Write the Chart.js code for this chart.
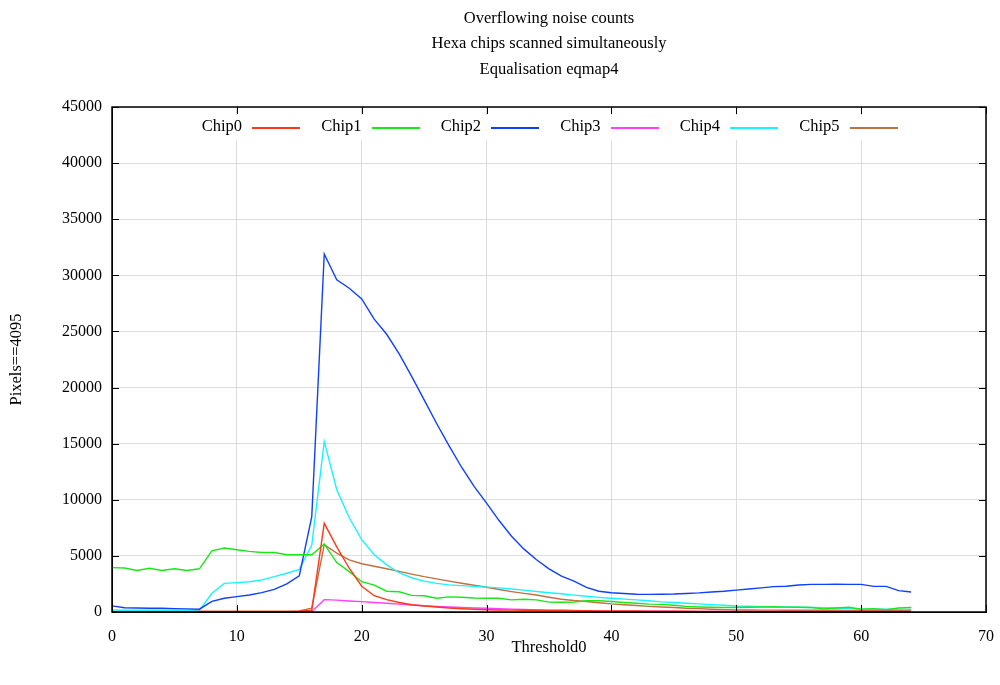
<!DOCTYPE html>
<html>
<head>
<meta charset="utf-8">
<script src="https://cdn.jsdelivr.net/npm/chart.js@4.4.1/dist/chart.umd.min.js"></script>
<style>
  html, body { margin: 0; padding: 0; background: #fff; }
  #wrap { width: 1000px; height: 685px; }
</style>
</head>
<body>
<div id="wrap"><canvas id="myChart" width="1000" height="685"></canvas></div>
<script>
// threshold values (x)
const thresholds = [0,1,2,3,4,5,6,7,8,9,10,11,12,13,14,15,16,17,18,19,20,21,22,23,24,25,26,27,28,29,30,31,32,
  33,34,35,36,37,38,39,40,41,42,43,44,45,46,47,48,49,50,51,52,53,54,55,56,57,58,59,60,61,62,63,64];

// pixels==4095 per chip
const chip0 = [30,30,30,30,35,35,35,40,40,40,45,45,50,55,60,80,150,7900,5800,3900,2300,1450,1100,850,650,530,440,360,
  290,240,200,180,170,160,150,140,130,120,110,100,95,90,85,80,75,70,65,60,60,55,55,50,50,50,50,45,45,45,45,40,40,40,40,40,40];
const chip1 = [3950,3920,3700,3900,3700,3850,3700,3850,5450,5700,5550,5400,5300,5300,5100,5100,5100,6050,4400,3600,2700,
  2400,1850,1800,1480,1450,1230,1350,1320,1250,1230,1220,1080,1130,1080,880,870,880,1000,1000,930,850,780,700,680,600,
  500,450,420,400,400,420,450,470,430,420,400,280,350,420,250,300,200,350,400];
const chip2 = [550,380,350,340,330,300,280,250,950,1220,1370,1520,1730,2020,2500,3220,8500,31900,29600,28850,27900,
  26100,24750,23000,21000,18900,16800,14800,12900,11200,9700,8150,6750,5600,4650,3850,3200,2750,2200,1850,1720,1650,
  1580,1570,1580,1600,1650,1700,1780,1850,1950,2050,2150,2260,2300,2400,2460,2460,2470,2460,2460,2280,2280,1900,1780];
const chip3 = [10,10,10,10,10,10,10,10,10,10,10,10,10,10,10,15,30,1100,1060,980,920,850,780,700,630,560,490,440,400,
  360,330,290,260,220,190,170,150,130,110,90,80,75,70,70,65,65,60,60,55,55,50,50,50,50,45,45,45,45,40,40,40,40,40,40,40];
const chip4 = [180,160,150,150,150,150,150,150,1670,2550,2620,2700,2860,3150,3450,3800,5970,15200,10900,8400,6450,5100,
  4200,3500,3050,2750,2550,2420,2350,2280,2220,2150,2050,1950,1830,1720,1620,1500,1400,1300,1220,1150,1080,1000,900,
  850,780,720,660,600,540,510,480,460,440,420,400,380,350,300,260,250,240,230,220];
const chip5 = [30,30,35,35,35,40,40,40,45,45,45,50,50,55,60,100,340,6000,5250,4650,4300,4080,3850,3620,3380,3150,2950,
  2750,2560,2380,2200,2000,1820,1660,1510,1320,1140,1020,930,820,720,650,580,500,450,400,340,300,250,210,180,175,170,
  165,160,160,155,150,150,145,140,140,135,135,130];

const chipNames = ["Chip0", "Chip1", "Chip2", "Chip3", "Chip4", "Chip5"];
const chipColors = ["#ff3818", "#18e818", "#1040ff", "#ff40ff", "#18f4ff", "#c07040"];
const titleLines = ["Overflowing noise counts", "Hexa chips scanned simultaneously", "Equalisation eqmap4"];

const FONT = "'Liberation Serif', 'Times New Roman', serif";

const series = [chip0, chip1, chip2, chip3, chip4, chip5];
const datasets = series.map((vals, i) => ({
  label: chipNames[i],
  data: vals.map((v, k) => ({ x: thresholds[k], y: v })),
  borderColor: chipColors[i],
  backgroundColor: chipColors[i],
  borderWidth: 1.4,
  pointRadius: 0,
  tension: 0,
  fill: false
}));

// titles, legend, frame and inward ticks, gnuplot style
const decorPlugin = {
  id: "decor",
  beforeDatasetsDraw(chart) {
    const { ctx, chartArea: a } = chart;
    ctx.save();
    ctx.fillStyle = "#fff";
    ctx.fillRect(a.left + 1, a.top + 8, a.right - a.left - 2, 25);
    ctx.restore();
  },
  afterDraw(chart) {
    const { ctx, chartArea: a, scales } = chart;
    ctx.save();
    ctx.fillStyle = "#000";
    ctx.font = "16.5px " + FONT;
    ctx.textAlign = "center";
    ctx.textBaseline = "middle";
    const cx = (a.left + a.right) / 2;
    titleLines.forEach((t, i) => ctx.fillText(t, cx, 18.5 + i * 25.5));
    ctx.fillText("Threshold0", cx, 647.5);
    ctx.save();
    ctx.translate(17, (a.top + a.bottom) / 2);
    ctx.rotate(-Math.PI / 2);
    ctx.fillText("Pixels==4095", 0, 0);
    ctx.restore();

    // legend
    ctx.textAlign = "right";
    chipNames.forEach((name, i) => {
      const x0 = 242 + i * 119.5;
      ctx.fillStyle = "#000";
      ctx.fillText(name, x0, 127);
      ctx.fillStyle = chipColors[i];
      ctx.fillRect(Math.round(x0 + 10), 127, 48, 2);
    });

    // frame
    ctx.strokeStyle = "#000";
    ctx.lineWidth = 1.5;
    ctx.strokeRect(a.left, a.top, a.right - a.left, a.bottom - a.top);

    // inward ticks
    ctx.lineWidth = 1;
    ctx.beginPath();
    scales.x.ticks.forEach(t => {
      const px = Math.round(scales.x.getPixelForValue(t.value)) + 0.5;
      ctx.moveTo(px, a.bottom); ctx.lineTo(px, a.bottom - 7);
      ctx.moveTo(px, a.top); ctx.lineTo(px, a.top + 7);
    });
    scales.y.ticks.forEach(t => {
      const py = Math.round(scales.y.getPixelForValue(t.value)) + 0.5;
      ctx.moveTo(a.left, py); ctx.lineTo(a.left + 7, py);
      ctx.moveTo(a.right, py); ctx.lineTo(a.right - 7, py);
    });
    ctx.stroke();
    ctx.restore();
  }
};

const ctx = document.getElementById("myChart");
new Chart(ctx, {
  type: "line",
  data: { datasets: datasets },
  options: {
    responsive: false,
    animation: false,
    layout: { padding: { top: 107, right: 14, left: 0, bottom: 0 } },
    plugins: {
      legend: { display: false },
      title: { display: false },
      tooltip: { enabled: false }
    },
    scales: {
      x: {
        type: "linear",
        min: 0,
        max: 70,
        afterFit: s => { s.height = 73; s.paddingLeft = 0; s.paddingRight = 0; },
        ticks: {
          stepSize: 10,
          padding: 15,
          color: "#000",
          font: { family: FONT, size: 16 },
          maxRotation: 0,
          callback: v => String(v)
        },
        grid: { color: "#dcdcdc", lineWidth: 1, drawTicks: false },
        border: { color: "#000", width: 1 }
      },
      y: {
        min: 0,
        max: 45000,
        afterFit: s => { s.width = 112; s.paddingTop = 0; s.paddingBottom = 0; },
        ticks: {
          stepSize: 5000,
          padding: 10,
          color: "#000",
          font: { family: FONT, size: 16 },
          callback: v => String(v)
        },
        grid: { color: "#dcdcdc", lineWidth: 1, drawTicks: false },
        border: { color: "#000", width: 1 }
      }
    }
  },
  plugins: [decorPlugin]
});
</script>
</body>
</html>
